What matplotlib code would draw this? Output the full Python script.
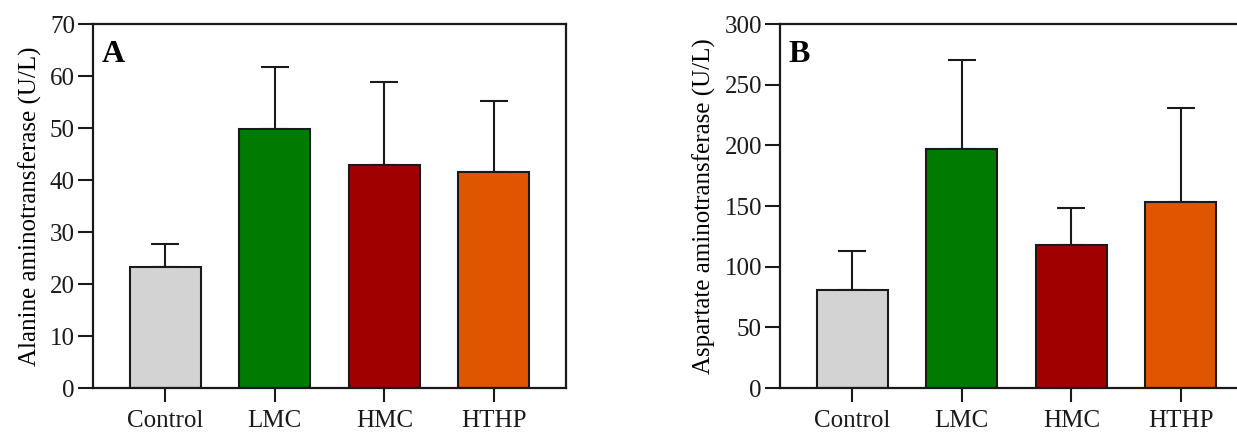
import matplotlib
matplotlib.use("Agg")
import matplotlib.pyplot as plt
import numpy as np

plt.rcParams['font.family'] = ['Liberation Serif', 'DejaVu Serif']

# datos
grupos = ['Control', 'LMC', 'HMC', 'HTHP']
colores = ['#d3d3d3', '#007a00', '#a00000', '#e05500']

alt_media = [23.3, 49.9, 42.9, 41.6]
alt_sd = [4.4, 11.9, 16.0, 13.6]

ast_media = [81, 197, 118, 153]
ast_sd = [32, 73, 30, 78]

fig = plt.figure(figsize=(12.37, 4.33), dpi=100)
ax_a = fig.add_axes([0.0752, 0.1039, 0.3824, 0.8406])
ax_b = fig.add_axes([0.6306, 0.1039, 0.3824, 0.8406])


def dibujar_panel(ax, medias, sds, ymax, paso, etiqueta_y, letra):
    x = np.arange(len(grupos))
    ax.bar(x, medias, width=0.65, color=colores, edgecolor='#1a1a1a', linewidth=1.5, zorder=2)
    ax.errorbar(x, medias, yerr=[np.zeros(len(sds)), sds], fmt='none',
                ecolor='#1a1a1a', elinewidth=1.5, capsize=10, capthick=1.5, zorder=1)
    ax.set_xlim(-0.66, len(grupos) - 1 + 0.66)
    ax.set_ylim(0, ymax)
    ax.set_yticks(np.arange(0, ymax + 1, paso))
    ax.set_xticks(x)
    ax.set_xticklabels(grupos)
    ax.set_ylabel(etiqueta_y, fontsize=18, labelpad=6)
    ax.tick_params(axis='both', direction='out', width=1.5, labelsize=18, colors='#1a1a1a')
    ax.tick_params(axis='y', length=11, pad=2)
    ax.tick_params(axis='x', length=10, pad=6)
    for s in ax.spines.values():
        s.set_linewidth(1.6)
        s.set_color('#1a1a1a')
    ax.text(0.018, 0.955, letra, transform=ax.transAxes, fontsize=23, fontweight='bold',
            va='top', ha='left')


dibujar_panel(ax_a, alt_media, alt_sd, 70, 10, 'Alanine aminotransferase (U/L)', 'A')
dibujar_panel(ax_b, ast_media, ast_sd, 300, 50, 'Aspartate aminotransferase (U/L)', 'B')

fig.savefig('out.png', dpi=100)
